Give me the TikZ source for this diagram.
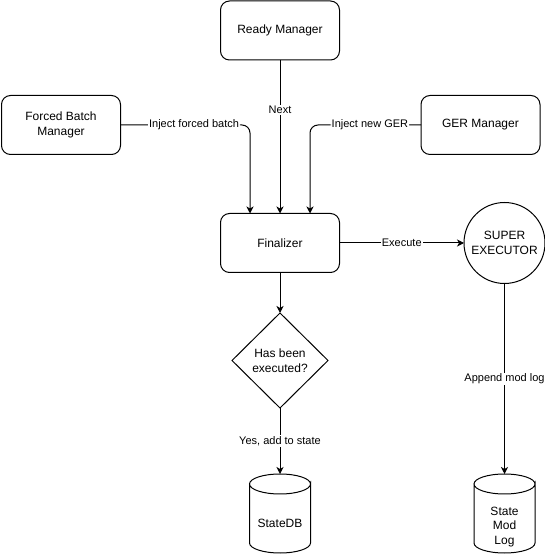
\documentclass[tikz,border=0pt]{standalone}
\usepackage{fontspec}
\setmainfont{Liberation Sans}
\usetikzlibrary{arrows.meta,shapes.geometric}
\begin{document}
\begin{tikzpicture}[x=1pt,y=1pt,
  every node/.style={font=\fontsize{12}{14.5}\selectfont, text=black},
  box/.style={draw, line width=1pt, rounded corners=9pt, minimum width=119pt,
    minimum height=59pt, inner sep=0pt, outer sep=0pt, align=center},
  decision/.style={diamond, draw, line width=1pt, minimum width=96pt,
    minimum height=95pt, inner sep=0pt, outer sep=0pt, align=center},
  engine/.style={circle, draw, line width=1pt, minimum size=81pt,
    inner sep=0pt, outer sep=0pt, align=center},
  store/.style={minimum width=61pt, minimum height=79pt, inner sep=0pt, outer sep=0pt},
  storetext/.style={align=center, inner sep=0pt},
  lbl/.style={font=\fontsize{11}{13}\selectfont, fill=white, inner sep=1pt},
  flow/.style={draw, line width=1pt, -{Stealth[length=7pt,width=7pt,inset=2pt]}},
  elbowflow/.style={flow, rounded corners=8pt}
]
% canvas
\fill[white] (0,0) rectangle (545,554);
\useasboundingbox (0,0) rectangle (545,554);

% cylinder outline drawn around a named store node
\newcommand\dbshape[1]{%
  \draw[line width=1pt] ([yshift=-10pt]#1.north east)
    arc[start angle=0, end angle=180, x radius=30.5pt, y radius=10pt]
    arc[start angle=180, end angle=360, x radius=30.5pt, y radius=10pt]
    -- ([yshift=10pt]#1.south east)
    arc[start angle=0, end angle=-180, x radius=30.5pt, y radius=10pt]
    -- ([yshift=-10pt]#1.north west);}

% nodes
\node[box] (rm)  at (280,523.5) {Ready Manager};
\node[box] (fbm) at (61,429)    {Forced Batch\\Manager};
\node[box] (ger) at (480.5,429) {GER Manager};
\node[box] (fin) at (280,311)   {Finalizer};
\node[engine] (sx) at (504.5,311) {SUPER\\EXECUTOR};
\node[decision] (dia) at (280,193.5) {Has been\\executed?};
\node[store, label={[storetext, yshift=-9.5pt]center:StateDB}] (sdb) at (280,40.5) {};
\node[store, label={[storetext, yshift=-13.5pt]center:State\\Mod\\Log}] (sml) at (504.5,40.5) {};
\dbshape{sdb}
\dbshape{sml}

% connectors
\draw[flow] (rm) -- node[lbl, pos=0.326] {Next} (fin);
\draw[elbowflow] (fbm.east) -| node[lbl, pos=0.284] {Inject forced batch} ([xshift=-30pt]fin.north);
\draw[elbowflow] (ger.west) -| node[lbl, pos=0.23] {Inject new GER} ([xshift=30pt]fin.north);
\draw[flow] (fin) -- node[lbl] {Execute} (sx);
\draw[flow] (fin) -- (dia);
\draw[flow] (dia) -- node[lbl] {Yes, add to state} (sdb);
\draw[flow] (sx) -- node[lbl] {Append mod log} (sml);
\end{tikzpicture}
\end{document}
